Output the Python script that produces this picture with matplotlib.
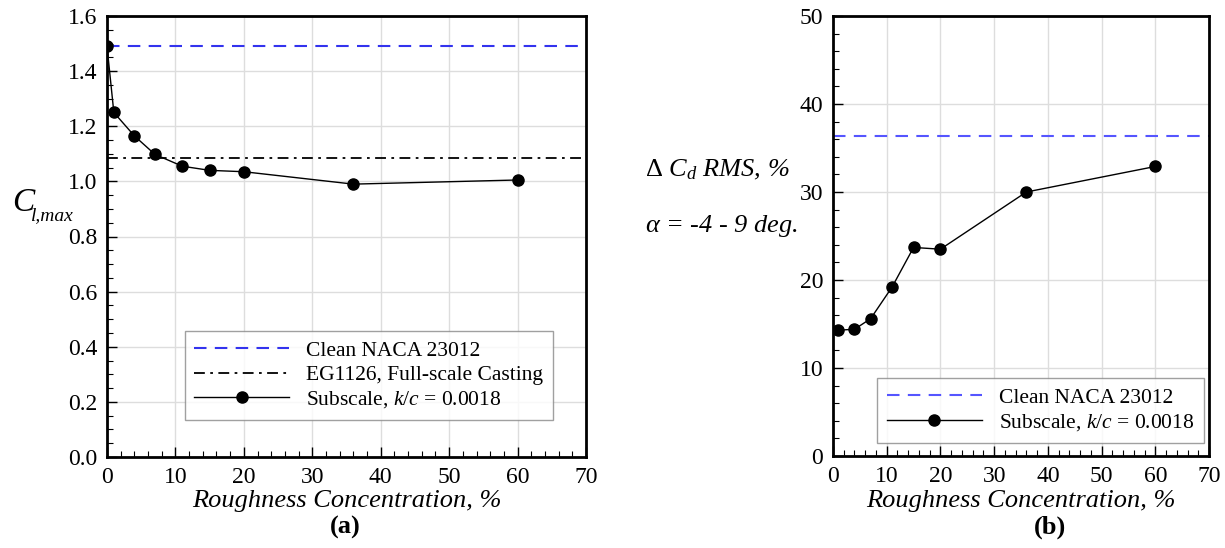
import numpy as np
import matplotlib.pyplot as plt
from matplotlib.ticker import MultipleLocator

plt.rcParams['font.family'] = ['Liberation Serif', 'DejaVu Serif']
plt.rcParams['mathtext.fontset'] = 'custom'
plt.rcParams['mathtext.rm'] = 'Liberation Serif'
plt.rcParams['mathtext.it'] = 'Liberation Serif:italic'

# (a) Cl,max vs roughness concentration
conc_a = [0, 1, 4, 7, 11, 15, 20, 36, 60]
clmax = [1.49, 1.25, 1.165, 1.098, 1.055, 1.04, 1.035, 0.99, 1.005]
clean_clmax = 1.49
eg1126_clmax = 1.085

# (b) delta Cd RMS vs roughness concentration
conc_b = [1, 4, 7, 11, 15, 20, 36, 60]
dcd_rms = [14.3, 14.4, 15.6, 19.2, 23.7, 23.5, 30.0, 32.9]
clean_dcd = 36.4

W, H = 1225, 548
fig = plt.figure(figsize=(W / 100, H / 100), dpi=100)

def px_axes(x0, y0, x1, y1):
    return fig.add_axes([x0 / W, 1 - y1 / H, (x1 - x0) / W, (y1 - y0) / H])

ax1 = px_axes(107, 16, 586, 457)
ax2 = px_axes(833, 16, 1209, 456)

blue = '#3333ee'

def style(ax):
    ax.grid(True, color='#dddddd', lw=1.0)
    ax.set_axisbelow(True)
    for s in ax.spines.values():
        s.set_linewidth(2)
    ax.tick_params(which='both', direction='in', top=False, right=False, labelsize=17, pad=7)
    ax.tick_params(which='major', length=7, width=1)
    ax.tick_params(which='minor', length=4, width=0.8)
    ax.set_xlim(0, 70)
    ax.xaxis.set_major_locator(MultipleLocator(10))
    ax.xaxis.set_minor_locator(MultipleLocator(2))
    ax.set_xlabel('Roughness Concentration, %', fontsize=19, style='italic', labelpad=2)

leg_kw = dict(fontsize=15.5, fancybox=False, edgecolor='#888888', handlelength=4.4,
              handletextpad=0.8, borderpad=0.45, labelspacing=0.2, borderaxespad=0)

# panel a
ax1.axhline(clean_clmax, color=blue, ls=(0, (6, 4)), lw=1.5, label='Clean NACA 23012')
ax1.axhline(eg1126_clmax, color='black', ls=(0, (6, 3, 1.5, 3)), lw=1.3,
            label='EG1126, Full-scale Casting')
ax1.plot(conc_a, clmax, '-o', color='black', lw=1, ms=8, label='Subscale, $k/c$ = 0.0018')
style(ax1)
ax1.set_ylim(0, 1.6)
ax1.yaxis.set_major_locator(MultipleLocator(0.2))
ax1.yaxis.set_minor_locator(MultipleLocator(0.05))
ax1.yaxis.set_major_formatter(plt.FormatStrFormatter('%.1f'))
fig.text(12 / W, 1 - 203 / H, 'C', fontsize=24, style='italic', va='center', ha='left')
fig.text(31 / W, 1 - 216 / H, 'l,max', fontsize=14, style='italic', va='center', ha='left')
leg1 = ax1.legend(loc='lower right', bbox_to_anchor=(0.931, 0.084), **leg_kw)
leg1.get_frame().set_linewidth(1)

# panel b
ax2.axhline(clean_dcd, color='#5555ff', ls=(0, (6, 4)), lw=1.5, label='Clean NACA 23012')
ax2.plot(conc_b, dcd_rms, '-o', color='black', lw=1, ms=8, label='Subscale, $k/c$ = 0.0018')
style(ax2)
ax2.set_ylim(0, 50)
ax2.yaxis.set_major_locator(MultipleLocator(10))
ax2.yaxis.set_minor_locator(MultipleLocator(2))
leg2 = ax2.legend(loc='lower right', bbox_to_anchor=(0.987, 0.03), **leg_kw)
leg2.get_frame().set_linewidth(1)

fig.text(645 / W, 1 - 170 / H, r'$\Delta$ $C_d$ RMS, %', fontsize=19, style='italic', va='center')
fig.text(645 / W, 1 - 226 / H, r'$\alpha$ = -4 - 9 deg.', fontsize=19, style='italic', va='center')

fig.text(345 / W, 1 - 527 / H, '(a)', fontsize=19, weight='bold', ha='center', va='center')
fig.text(1050 / W, 1 - 527 / H, '(b)', fontsize=19, weight='bold', ha='center', va='center')

fig.savefig('out.png', dpi=100)
